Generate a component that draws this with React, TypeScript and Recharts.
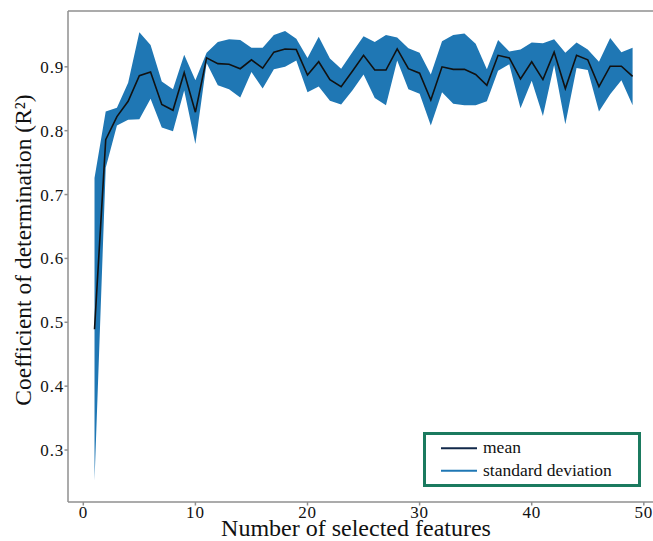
import React from "react";
import {
  ComposedChart,
  Area,
  Line,
  XAxis,
  YAxis,
  ReferenceLine,
  Label,
} from "recharts";

const FEATURES = [
  1, 2, 3, 4, 5, 6, 7, 8, 9, 10, 11, 12, 13, 14, 15, 16, 17, 18, 19, 20, 21, 22, 23, 24, 25,
  26, 27, 28, 29, 30, 31, 32, 33, 34, 35, 36, 37, 38, 39, 40, 41, 42, 43, 44, 45, 46, 47, 48, 49,
];

const MEAN = [
  0.489, 0.786, 0.822, 0.846, 0.886, 0.892, 0.841, 0.832, 0.891, 0.829, 0.914, 0.905, 0.904,
  0.897, 0.911, 0.898, 0.923, 0.928, 0.927, 0.887, 0.908, 0.88, 0.869, 0.893, 0.918, 0.895,
  0.895, 0.928, 0.897, 0.89, 0.848, 0.9, 0.896, 0.896, 0.888, 0.871, 0.918, 0.914, 0.881, 0.908,
  0.88, 0.923, 0.866, 0.918, 0.911, 0.869, 0.901, 0.901, 0.885,
];

const STD = [
  0.237, 0.044, 0.014, 0.029, 0.068, 0.042, 0.036, 0.033, 0.028, 0.05, 0.008, 0.034, 0.039,
  0.045, 0.019, 0.032, 0.027, 0.028, 0.017, 0.027, 0.039, 0.033, 0.028, 0.03, 0.03, 0.044, 0.055,
  0.018, 0.032, 0.032, 0.04, 0.04, 0.054, 0.056, 0.048, 0.025, 0.024, 0.01, 0.046, 0.03, 0.057,
  0.02, 0.056, 0.02, 0.016, 0.039, 0.044, 0.022, 0.045,
];

const X_TICKS = [0, 10, 20, 30, 40, 50];
const Y_TICKS = [0.3, 0.4, 0.5, 0.6, 0.7, 0.8, 0.9];
const X_DOMAIN = [-1.365, 50.82];
const Y_DOMAIN = [0.2186, 0.9874];

const X_LABEL = "Number of selected features";
const Y_LABEL = "Coefficient of determination (R²)";
const LEGEND_MEAN = "mean";
const LEGEND_STD = "standard deviation";

const data = FEATURES.map((x, i) => ({
  x,
  mean: MEAN[i],
  band: [MEAN[i] - STD[i], MEAN[i] + STD[i]],
}));

const FONT = "'Liberation Serif', 'Times New Roman', serif";
const BLUE = "#1f77b4";
const AXIS = "#8f8f8f";

function LegendBox() {
  return (
    <svg
      width={218}
      height={55}
      style={{ position: "absolute", left: 423, top: 432, display: "block" }}
    >
      <rect x={1.5} y={1.5} width={215} height={52} fill="#fff" stroke="#1b7a5f" strokeWidth={3} />
      <line x1={18} x2={54} y1={16.3} y2={16.3} stroke="#12294a" strokeWidth={2} />
      <line x1={18} x2={54} y1={38.7} y2={38.7} stroke={BLUE} strokeWidth={2} />
      <text x={60} y={21} fontFamily={FONT} fontSize={17.5} fill="#111">
        {LEGEND_MEAN}
      </text>
      <text x={60} y={43.5} fontFamily={FONT} fontSize={17.5} fill="#111">
        {LEGEND_STD}
      </text>
    </svg>
  );
}

export default function App() {
  return (
    <div
      style={{
        position: "absolute",
        left: 0,
        top: 0,
        width: 653,
        height: 541,
        background: "#fff",
        overflow: "hidden",
        fontFamily: FONT,
      }}
    >
      <ComposedChart
        width={653}
        height={541}
        data={data}
        margin={{ top: 11, right: 0, bottom: 0, left: 0 }}
        style={{ fontFamily: FONT }}
      >
        <XAxis
          dataKey="x"
          type="number"
          domain={X_DOMAIN}
          ticks={X_TICKS}
          allowDataOverflow
          height={39}
          stroke={AXIS}
          strokeWidth={1.5}
          tickSize={3.5}
          tickMargin={0}
          tick={{ fill: "#111", fontFamily: FONT, fontSize: 17, letterSpacing: 0.8 }}
        >
          <Label
            content={() => (
              <text x={356} y={536} textAnchor="middle" fontFamily={FONT} fontSize={24} fill="#111">
                {X_LABEL}
              </text>
            )}
          />
        </XAxis>
        <YAxis
          type="number"
          domain={Y_DOMAIN}
          ticks={Y_TICKS}
          allowDataOverflow
          width={68}
          stroke={AXIS}
          strokeWidth={1.5}
          tickSize={3.5}
          tickMargin={0.5}
          tickFormatter={(v: number) => v.toFixed(1)}
          tick={{ fill: "#111", fontFamily: FONT, fontSize: 17, letterSpacing: 0.8 }}
        >
          <Label
            content={() => (
              <text
                x={31}
                y={250}
                textAnchor="middle"
                fontFamily={FONT}
                fontSize={23.5}
                fill="#111"
                transform="rotate(-90 31 250)"
              >
                {Y_LABEL}
              </text>
            )}
          />
        </YAxis>
        <ReferenceLine y={Y_DOMAIN[1]} stroke={AXIS} strokeWidth={1.5} ifOverflow="visible" />
        <Area
          type="linear"
          dataKey="band"
          stroke="none"
          fill={BLUE}
          fillOpacity={1}
          isAnimationActive={false}
          legendType="none"
        />
        <Line
          type="linear"
          dataKey="mean"
          stroke="#111"
          strokeWidth={1.6}
          dot={false}
          activeDot={false}
          isAnimationActive={false}
        />
      </ComposedChart>
      <LegendBox />
    </div>
  );
}
